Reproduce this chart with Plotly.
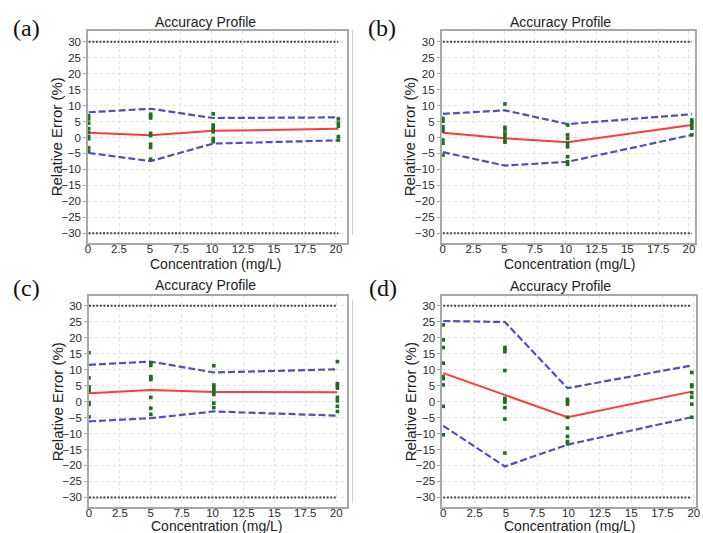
import plotly.graph_objects as go

W, H = 703, 533

# ---------------- data ----------------
tick_vals = [0, 2.5, 5, 7.5, 10, 12.5, 15, 17.5, 20]
tick_text = ["0", "2.5", "5", "7.5", "10", "12.5", "15", "17.5", "20"]
y_tick_vals = [-30, -25, -20, -15, -10, -5, 0, 5, 10, 15, 20, 25, 30]
acceptance = [30, -30]

# panel (a)
conc_a = [0.05, 5.05, 10.1, 20.2]
bias_a = [1.5, 0.7, 2.1, 2.7]
upper_a = [7.9, 9.0, 6.1, 6.3]
lower_a = [-4.85, -7.4, -1.9, -0.9]
points_a = [
    [6.8, 5.8, 4.5, 2.8, 1.6, 0.3, -0.4, -3.2, -4.3],
    [7.3, 6.8, 6.1, 1.3, 0.6, -2.1, -3.1, -6.8],
    [7.4, 3.9, 3.1, 2.4, 1.8, -0.3, -1.3],
    [5.8, 4.5, 3.5, 0.3, -0.8],
]

# panel (b)
conc_b = [0.02, 5.06, 10.15, 20.24]
bias_b = [1.5, -0.26, -1.5, 3.9]
upper_b = [7.4, 8.5, 4.2, 7.3]
lower_b = [-4.6, -8.8, -7.6, 0.8]
points_b = [
    [6.0, 5.1, 3.4, 2.7, 2.0, -0.8, -1.8, -5.5],
    [10.5, 3.2, 2.4, 1.3, 0.3, -0.8, -1.5],
    [3.9, 0.8, -0.3, -1.8, -2.9, -6.0, -7.6, -8.4],
    [5.5, 4.8, 3.9, 2.9, 0.8],
]

# panel (c)
conc_c = [0.0, 5.0, 10.1, 20.1]
bias_c = [2.6, 3.6, 3.0, 2.9]
upper_c = [11.5, 12.5, 9.1, 10.1]
lower_c = [-6.2, -5.2, -3.1, -4.4]
points_c = [
    [15.3, 7.4, 4.6, 3.9, 3.4, -0.3, -0.9, -4.8],
    [12.0, 11.3, 7.8, 7.3, 6.9, 1.3, -2.1, -4.0],
    [11.2, 5.2, 4.5, 3.8, 3.0, 2.2, -0.5, -1.9],
    [12.5, 5.6, 5.0, 4.2, 1.3, 0.2, -1.5, -3.1],
]

# panel (d)
conc_d = [0.0, 4.92, 9.92, 19.84]
bias_d = [8.9, 2.1, -4.9, 3.1]
upper_d = [25.2, 24.9, 4.2, 11.3]
lower_d = [-7.6, -20.3, -13.5, -4.9]
points_d = [
    [24.0, 19.3, 16.9, 12.0, 7.8, 7.2, 5.2, -1.5, -10.4],
    [16.9, 16.3, 15.6, 9.7, 1.0, 0.4, -0.2, -1.9, -5.5, -16.1],
    [0.7, 0.0, -0.8, -4.9, -8.3, -10.9, -12.5, -13.2],
    [9.1, 5.2, 4.7, 2.8, 1.4, -0.8, -4.9],
]

labels = ["(a)", "(b)", "(c)", "(d)"]
panel_title = "Accuracy Profile"
x_title = "Concentration (mg/L)"
y_title = "Relative Error (%)"

# ---------------- layout geometry (pixels) ----------------
panels = [
    dict(conc=conc_a, bias=bias_a, up=upper_a, lo=lower_a, pts=points_a,
         box=(86, 348, 31, 243), xr=[0, 20.9], yr=[-33.04, 33.35],
         title=(205, 21.7), ytitle=(55, 137), xtitle=(215.7, 264), lab=(23.5, 28)),
    dict(conc=conc_b, bias=bias_b, up=upper_b, lo=lower_b, pts=points_b,
         box=(443.7, 700, 31, 243), xr=[-0.08, 20.5], yr=[-33.04, 33.35],
         title=(563.7, 21.7), ytitle=(412, 137), xtitle=(573.7, 264), lab=(383.7, 28)),
    dict(conc=conc_c, bias=bias_c, up=upper_c, lo=lower_c, pts=points_c,
         box=(87, 348, 296, 507), xr=[0, 20.88], yr=[-33.0, 33.03],
         title=(205, 285), ytitle=(55, 402), xtitle=(216.7, 526.3), lab=(24, 288)),
    dict(conc=conc_d, bias=bias_d, up=upper_d, lo=lower_d, pts=points_d,
         box=(444.3, 700.5, 296, 507), xr=[-0.08, 20.14], yr=[-33.0, 33.03],
         title=(563.7, 286), ytitle=(412, 402), xtitle=(573.7, 526.3), lab=(384, 288)),
]

RED = "#ff3b3b"
BLUE = "#4f4fc0"
GREEN = "#1d6e1d"
DOT = "#444444"
FONT = "Liberation Sans, Arial, sans-serif"


def px(x, y):
    return x / W, 1 - y / H


fig = go.Figure()
annotations = []
shapes = []

for i, p in enumerate(panels):
    n = "" if i == 0 else str(i + 1)
    xa, ya = "x" + n, "y" + n
    x0, x1, y0, y1 = p["box"]
    fig.update_layout(**{
        "xaxis" + n: dict(
            domain=[x0 / W, x1 / W], range=p["xr"], anchor=ya,
            tickvals=tick_vals, ticktext=tick_text,
            showgrid=True, gridcolor="#e2e2e2", griddash="dot", gridwidth=1,
            showline=True, mirror=True, linecolor="#a8a8a8", linewidth=1.5,
            ticks="", ticklabelstandoff=-6, ticklabeloverflow="allow",
            tickfont=dict(family=FONT, size=11.5, color="#2a2a2a"),
            zeroline=False, fixedrange=True,
        ),
        "yaxis" + n: dict(
            domain=[1 - y1 / H, 1 - y0 / H], range=p["yr"], anchor=xa,
            tickvals=y_tick_vals,
            showgrid=True, gridcolor="#e2e2e2", griddash="dot", gridwidth=1,
            showline=True, mirror=True, linecolor="#a8a8a8", linewidth=1.5,
            ticks="outside", ticklen=3, tickcolor="#a8a8a8",
            tickfont=dict(family=FONT, size=11.5, color="#2a2a2a"),
            zeroline=False, fixedrange=True,
        ),
    })

    conc = p["conc"]
    # acceptance limits
    for a in acceptance:
        fig.add_trace(go.Scatter(
            x=[conc[0], conc[-1]], y=[a, a], mode="lines", xaxis=xa, yaxis=ya,
            line=dict(color=DOT, width=2, dash="2px,1.6px"), showlegend=False,
            hoverinfo="skip"))
    # tolerance limits
    for lim in (p["up"], p["lo"]):
        fig.add_trace(go.Scatter(
            x=conc, y=lim, mode="lines", xaxis=xa, yaxis=ya,
            line=dict(color=BLUE, width=2.2, dash="7px,3px"), showlegend=False))
    # bias
    fig.add_trace(go.Scatter(
        x=conc, y=p["bias"], mode="lines", xaxis=xa, yaxis=ya,
        line=dict(color=RED, width=2), showlegend=False))
    # individual results
    xs, ys = [], []
    for c, vals in zip(conc, p["pts"]):
        xs += [c] * len(vals)
        ys += vals
    fig.add_trace(go.Scatter(
        x=xs, y=ys, mode="markers", xaxis=xa, yaxis=ya, cliponaxis=False,
        marker=dict(color=GREEN, size=3.6, symbol="square"), showlegend=False))

    tx, ty = px(*p["title"])
    annotations.append(dict(text=panel_title, x=tx, y=ty, xref="paper", yref="paper",
                            showarrow=False, xanchor="center", yanchor="middle",
                            font=dict(family=FONT, size=14, color="#222")))
    tx, ty = px(*p["ytitle"])
    annotations.append(dict(text=y_title, x=tx, y=ty, xref="paper", yref="paper",
                            showarrow=False, xanchor="center", yanchor="middle", textangle=-90,
                            font=dict(family=FONT, size=15, color="#222")))
    tx, ty = px(*p["xtitle"])
    annotations.append(dict(text=x_title, x=tx, y=ty, xref="paper", yref="paper",
                            showarrow=False, xanchor="center", yanchor="middle",
                            font=dict(family=FONT, size=14, color="#222")))
    tx, ty = px(*p["lab"])
    annotations.append(dict(text=labels[i], x=tx, y=ty, xref="paper", yref="paper",
                            showarrow=False, xanchor="center", yanchor="middle",
                            font=dict(family="Liberation Serif, Times New Roman, serif",
                                      size=24, color="#111")))

# faint separator lines left of panels (b) and (d)
for (ya0, ya1) in [(30, 235), (300, 503)]:
    shapes.append(dict(type="line", xref="paper", yref="paper",
                       x0=353.5 / W, x1=353.5 / W, y0=1 - ya1 / H, y1=1 - ya0 / H,
                       line=dict(color="#d0d0d0", width=1)))

fig.update_layout(
    width=W, height=H, margin=dict(l=0, r=0, t=0, b=0),
    paper_bgcolor="white", plot_bgcolor="white",
    annotations=annotations, shapes=shapes, showlegend=False,
)

fig.write_html("out.html")
